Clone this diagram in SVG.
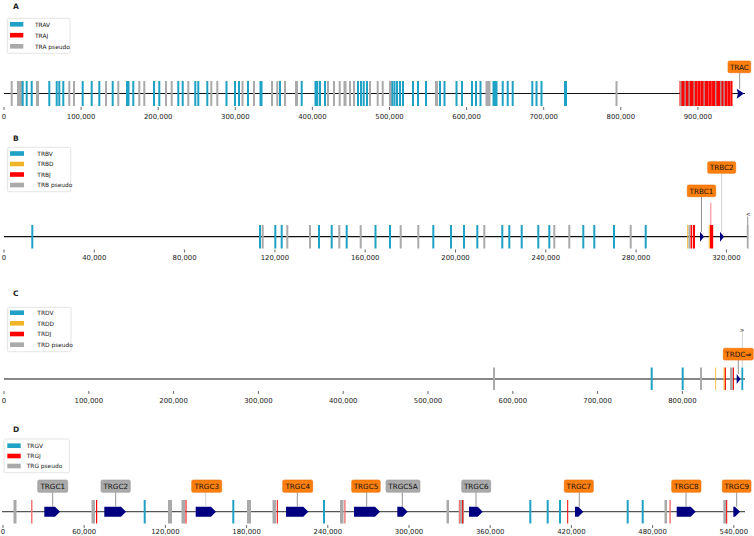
<svg xmlns="http://www.w3.org/2000/svg" width="754" height="536" viewBox="0 0 754 536">
<style>
text{font-family:"DejaVu Sans","Liberation Sans",sans-serif;fill:#222}
.t{font-size:6.9px;text-anchor:middle}
.ttl{font-size:7.5px;font-weight:bold}
.lg{font-size:5.9px}
.lb{font-size:7.2px;text-anchor:middle;fill:#111}
.b{fill:#1fa2c5}.g{fill:#aaa}.r{fill:#f00}.lr{fill:#f27878}.o{fill:#f0b429}.n{fill:#000080}
.box{fill:#fff;stroke:#ddd;stroke-width:0.8}
.ob{fill:#ff7f0e;stroke:#e86d00;stroke-width:0.6}
.gb{fill:#aaa;stroke:#999;stroke-width:0.6}
.tk{stroke:#444;stroke-width:0.8}
.cn{stroke:#888;stroke-width:0.9;fill:none}
.cl{stroke:#ccc;stroke-width:0.9;fill:none}
</style>
<rect width="754" height="536" fill="#fff"/>

<!-- ================= PANEL A ================= -->
<g id="panelA">
<text class="ttl" x="13" y="9">A</text>
<g id="legendA">
<rect class="box" x="7.3" y="18.3" width="62.7" height="35" rx="1.5"/>
<rect class="b" x="10" y="22" width="13.3" height="4.6"/><text class="lg" x="35" y="26.6">TRAV</text>
<rect class="r" x="10" y="32.9" width="13.3" height="4.6"/><text class="lg" x="35" y="37.5">TRAJ</text>
<rect class="g" x="10" y="44" width="13.3" height="4.6"/><text class="lg" x="35" y="48.6">TRA pseudo</text>
</g>
<line x1="4" y1="93.5" x2="745" y2="93.5" stroke="#111" stroke-width="1.2"/>
<g id="barsA">
<rect class="g" x="10.7" y="81" width="2" height="25"/>
<rect class="g" x="17" y="81" width="5.5" height="25"/>
<rect class="b" x="21.7" y="81" width="2" height="25"/>
<rect class="b" x="25.7" y="81" width="2" height="25"/>
<rect class="b" x="30.7" y="81" width="2" height="25"/>
<rect class="g" x="36" y="81" width="3" height="25"/>
<rect class="b" x="48.3" y="81" width="2" height="25"/>
<rect class="b" x="55.7" y="81" width="2" height="25"/>
<rect class="b" x="58.3" y="81" width="2" height="25"/>
<rect class="b" x="62.3" y="81" width="2" height="25"/>
<rect class="g" x="68.3" y="81" width="2" height="25"/>
<rect class="g" x="73" y="81" width="2" height="25"/>
<rect class="b" x="81.7" y="81" width="2" height="25"/>
<rect class="b" x="90.7" y="81" width="2" height="25"/>
<rect class="b" x="98.3" y="81" width="2" height="25"/>
<rect class="g" x="105" y="81" width="2" height="25"/>
<rect class="b" x="111.7" y="81" width="2" height="25"/>
<rect class="g" x="117.3" y="81" width="2" height="25"/>
<rect class="b" x="126" y="81" width="3.5" height="25"/>
<rect class="b" x="132.3" y="81" width="2" height="25"/>
<rect class="g" x="138.3" y="81" width="2" height="25"/>
<rect class="g" x="143.3" y="81" width="2" height="25"/>
<rect class="b" x="153" y="81" width="2" height="25"/>
<rect class="b" x="158.3" y="81" width="2" height="25"/>
<rect class="g" x="165" y="81" width="2" height="25"/>
<rect class="g" x="170.7" y="81" width="2" height="25"/>
<rect class="b" x="177.3" y="81" width="2" height="25"/>
<rect class="b" x="181.7" y="81" width="2" height="25"/>
<rect class="g" x="187.3" y="81" width="2" height="25"/>
<rect class="b" x="194.3" y="81" width="2" height="25"/>
<rect class="b" x="197.3" y="81" width="2" height="25"/>
<rect class="b" x="206.3" y="81" width="2" height="25"/>
<rect class="g" x="210.3" y="81" width="2" height="25"/>
<rect class="g" x="216.3" y="81" width="2" height="25"/>
<rect class="b" x="225.5" y="81" width="2" height="25"/>
<rect class="b" x="234" y="81" width="2" height="25"/>
<rect class="b" x="238" y="81" width="2" height="25"/>
<rect class="g" x="241.5" y="81" width="2" height="25"/>
<rect class="b" x="247" y="81" width="2" height="25"/>
<rect class="g" x="253" y="81" width="2" height="25"/>
<rect class="b" x="259.5" y="81" width="3" height="25"/>
<rect class="g" x="271" y="81" width="2" height="25"/>
<rect class="g" x="276.3" y="81" width="2" height="25"/>
<rect class="b" x="279" y="81" width="2" height="25"/>
<rect class="g" x="284" y="81" width="2" height="25"/>
<rect class="g" x="295" y="81" width="3" height="25"/>
<rect class="b" x="300.7" y="81" width="2" height="25"/>
<rect class="b" x="314.5" y="81" width="3.8" height="25"/>
<rect class="b" x="319" y="81" width="2" height="25"/>
<rect class="b" x="324" y="81" width="2" height="25"/>
<rect class="g" x="327" y="81" width="2" height="25"/>
<rect class="g" x="333" y="81" width="2" height="25"/>
<rect class="g" x="338.7" y="81" width="2" height="25"/>
<rect class="g" x="343.5" y="81" width="3" height="25"/>
<rect class="g" x="349" y="81" width="2" height="25"/>
<rect class="g" x="353" y="81" width="2" height="25"/>
<rect class="b" x="357" y="81" width="2" height="25"/>
<rect class="b" x="360" y="81" width="2" height="25"/>
<rect class="b" x="362.7" y="81" width="2" height="25"/>
<rect class="b" x="366" y="81" width="2" height="25"/>
<rect class="g" x="369" y="81" width="2" height="25"/>
<rect class="g" x="376.7" y="81" width="2" height="25"/>
<rect class="g" x="381.7" y="81" width="2" height="25"/>
<rect class="g" x="389" y="81" width="3" height="25"/>
<rect class="b" x="391.5" y="81" width="1.8" height="25"/>
<rect class="b" x="393.5" y="81" width="2" height="25"/>
<rect class="b" x="396" y="81" width="2" height="25"/>
<rect class="b" x="399" y="81" width="2" height="25"/>
<rect class="b" x="402" y="81" width="2" height="25"/>
<rect class="b" x="412" y="81" width="2" height="25"/>
<rect class="b" x="417" y="81" width="2" height="25"/>
<rect class="b" x="425" y="81" width="2" height="25"/>
<rect class="g" x="435" y="81" width="3" height="25"/>
<rect class="b" x="439" y="81" width="2" height="25"/>
<rect class="b" x="443.5" y="81" width="2" height="25"/>
<rect class="b" x="455.5" y="81" width="2" height="25"/>
<rect class="b" x="461" y="81" width="2" height="25"/>
<rect class="b" x="471" y="81" width="2" height="25"/>
<rect class="b" x="475" y="81" width="2" height="25"/>
<rect class="b" x="479.5" y="81" width="2" height="25"/>
<rect class="g" x="485.5" y="81" width="5" height="25"/>
<rect class="b" x="492.5" y="81" width="5" height="25"/>
<rect class="b" x="501.7" y="81" width="2" height="25"/>
<rect class="b" x="506.7" y="81" width="2" height="25"/>
<rect class="b" x="511.7" y="81" width="2" height="25"/>
<rect class="b" x="531.3" y="81" width="2" height="25"/>
<rect class="b" x="535.5" y="81" width="2" height="25"/>
<rect class="b" x="540.5" y="81" width="2" height="25"/>
<rect class="b" x="564" y="81" width="3" height="25"/>
<rect class="g" x="615.5" y="81" width="2" height="25"/>
<rect class="r" x="679.5" y="81" width="53" height="25"/>
<rect class="g" x="680.2" y="81" width="1.2" height="25"/>
<rect class="g" x="684.5" y="81" width="1.2" height="25"/>
<rect class="g" x="688.5" y="81" width="1.2" height="25"/>
<rect class="g" x="693.5" y="81" width="1.2" height="25"/>
<rect class="g" x="703.5" y="81" width="1.2" height="25"/>
<rect class="g" x="715.2" y="81" width="1.2" height="25"/>
<rect class="g" x="720.2" y="81" width="1.2" height="25"/>
<rect class="g" x="723.5" y="81" width="1.2" height="25"/>
<rect class="lr" x="697" y="81" width="0.6" height="25"/>
<rect class="lr" x="700" y="81" width="0.6" height="25"/>
<rect class="lr" x="708" y="81" width="0.6" height="25"/>
<rect class="lr" x="711.5" y="81" width="0.6" height="25"/>
<rect class="lr" x="727" y="81" width="0.6" height="25"/>
<rect class="lr" x="730" y="81" width="0.6" height="25"/>
</g>
<path class="n" d="M736.7,88.7 L744,93.6 L736.7,98.7 L738,93.6 Z"/>
<g id="ticksA">
<path class="tk" d="M4,107v3M81.1,107v3M158.2,107v3M235.3,107v3M312.4,107v3M389.5,107v3M466.6,107v3M543.7,107v3M620.8,107v3M697.9,107v3"/>
<text class="t" x="4" y="118.5">0</text>
<text class="t" x="81.1" y="118.5">100,000</text>
<text class="t" x="158.2" y="118.5">200,000</text>
<text class="t" x="235.3" y="118.5">300,000</text>
<text class="t" x="312.4" y="118.5">400,000</text>
<text class="t" x="389.5" y="118.5">500,000</text>
<text class="t" x="466.6" y="118.5">600,000</text>
<text class="t" x="543.7" y="118.5">700,000</text>
<text class="t" x="620.8" y="118.5">800,000</text>
<text class="t" x="697.9" y="118.5">900,000</text>
</g>
</g>

<!-- ================= PANEL B ================= -->
<g id="panelB">
<text class="ttl" x="13" y="141">B</text>
<g id="legendB">
<rect class="box" x="7.3" y="147.3" width="63.4" height="44.4" rx="1.5"/>
<rect class="b" x="10" y="151.2" width="14" height="4.6"/><text class="lg" x="37.3" y="155.7">TRBV</text>
<rect class="o" x="10" y="161.7" width="14" height="4.6"/><text class="lg" x="37.3" y="166.2">TRBD</text>
<rect class="r" x="10" y="172.2" width="14" height="4.6"/><text class="lg" x="37.3" y="176.7">TRBJ</text>
<rect class="g" x="10" y="182.7" width="14" height="4.6"/><text class="lg" x="37.3" y="187.2">TRB pseudo</text>
</g>
<line x1="4" y1="236.7" x2="748" y2="236.7" stroke="#111" stroke-width="1.2"/>
<g id="barsB">
<rect class="b" x="31.3" y="225" width="2" height="23.5"/>
<rect class="b" x="259" y="225" width="2" height="23.5"/>
<rect class="g" x="261.7" y="225" width="2" height="23.5"/>
<rect class="b" x="274.3" y="225" width="2" height="23.5"/>
<rect class="b" x="280.7" y="225" width="2" height="23.5"/>
<rect class="g" x="286.3" y="225" width="2" height="23.5"/>
<rect class="g" x="309" y="225" width="2" height="23.5"/>
<rect class="b" x="318" y="225" width="2" height="23.5"/>
<rect class="b" x="330.7" y="225" width="2" height="23.5"/>
<rect class="g" x="338.3" y="225" width="2" height="23.5"/>
<rect class="b" x="345.7" y="225" width="2" height="23.5"/>
<rect class="g" x="359.7" y="225" width="2" height="23.5"/>
<rect class="b" x="374.5" y="225" width="2" height="23.5"/>
<rect class="b" x="389" y="225" width="2" height="23.5"/>
<rect class="g" x="399.7" y="225" width="2" height="23.5"/>
<rect class="g" x="417.3" y="225" width="2" height="23.5"/>
<rect class="b" x="432.3" y="225" width="2" height="23.5"/>
<rect class="b" x="450" y="225" width="2" height="23.5"/>
<rect class="b" x="463" y="225" width="2" height="23.5"/>
<rect class="b" x="476.3" y="225" width="2" height="23.5"/>
<rect class="g" x="483.3" y="225" width="2" height="23.5"/>
<rect class="b" x="501.3" y="225" width="2" height="23.5"/>
<rect class="b" x="508.3" y="225" width="2" height="23.5"/>
<rect class="b" x="520.7" y="225" width="2" height="23.5"/>
<rect class="b" x="537.3" y="225" width="2" height="23.5"/>
<rect class="b" x="548.3" y="225" width="2" height="23.5"/>
<rect class="g" x="553.3" y="225" width="2" height="23.5"/>
<rect class="g" x="568.3" y="225" width="2" height="23.5"/>
<rect class="b" x="582.3" y="225" width="2" height="23.5"/>
<rect class="b" x="593.3" y="225" width="2" height="23.5"/>
<rect class="b" x="613" y="225" width="2" height="23.5"/>
<rect class="g" x="629.7" y="225" width="2" height="23.5"/>
<rect class="b" x="644.7" y="225" width="2" height="23.5"/>
<rect class="o" x="687.2" y="225" width="1" height="23.5"/>
<rect class="g" x="688.5" y="225" width="1.5" height="23.5"/>
<rect class="r" x="690.5" y="225" width="1.5" height="23.5"/>
<rect class="r" x="692.8" y="225" width="2.2" height="23.5"/>
<rect class="o" x="708.8" y="225" width="1" height="23.5"/>
<rect class="r" x="710" y="225" width="3.2" height="23.5"/>
<rect class="lr" x="710.4" y="202.7" width="0.9" height="22.5"/>
<rect class="g" x="746.8" y="225" width="1.8" height="23.5"/>
</g>
<path class="n" d="M700,231.7 L704,236.7 L700,241.7 Z"/>
<path class="n" d="M720,231.7 L724,236.7 L720,241.7 Z"/>
<g id="ticksB">
<path class="tk" d="M4,249.5v3M94.3,249.5v3M184.6,249.5v3M274.9,249.5v3M365.2,249.5v3M455.5,249.5v3M545.8,249.5v3M636.1,249.5v3M726.4,249.5v3"/>
<text class="t" x="4" y="259.5">0</text>
<text class="t" x="94.3" y="259.5">40,000</text>
<text class="t" x="184.6" y="259.5">80,000</text>
<text class="t" x="274.9" y="259.5">120,000</text>
<text class="t" x="365.2" y="259.5">160,000</text>
<text class="t" x="455.5" y="259.5">200,000</text>
<text class="t" x="545.8" y="259.5">240,000</text>
<text class="t" x="636.1" y="259.5">280,000</text>
<text class="t" x="726.4" y="259.5">320,000</text>
</g>
</g>

<!-- ================= PANEL C ================= -->
<g id="panelC">
<text class="ttl" x="13" y="296">C</text>
<g id="legendC">
<rect class="box" x="7.3" y="307.3" width="63.7" height="44.4" rx="1.5"/>
<rect class="b" x="10" y="310.4" width="14" height="4.6"/><text class="lg" x="37.3" y="314.9">TRDV</text>
<rect class="o" x="10" y="321" width="14" height="4.6"/><text class="lg" x="37.3" y="325.5">TRDD</text>
<rect class="r" x="10" y="331.7" width="14" height="4.6"/><text class="lg" x="37.3" y="336.2">TRDJ</text>
<rect class="g" x="10" y="342.4" width="14" height="4.6"/><text class="lg" x="37.3" y="346.9">TRD pseudo</text>
</g>
<line x1="4" y1="379" x2="745" y2="379" stroke="#111" stroke-width="1.2"/>
<g id="barsC">
<rect class="g" x="493" y="367.5" width="2" height="22.5"/>
<rect class="b" x="650.7" y="367.5" width="2" height="22.5"/>
<rect class="b" x="681.7" y="367.5" width="2" height="22.5"/>
<rect class="g" x="700" y="367.5" width="2" height="22.5"/>
<rect class="o" x="715.3" y="367.5" width="0.8" height="22.5"/>
<rect class="o" x="723.6" y="367.5" width="1.2" height="22.5"/>
<rect class="r" x="724.9" y="367.5" width="1" height="22.5"/>
<rect class="g" x="730" y="367.5" width="2.8" height="22.5"/>
<rect class="r" x="732.9" y="367.5" width="1" height="22.5"/>
<rect class="b" x="741.4" y="367.5" width="1.8" height="22.5"/>
</g>
<path class="n" d="M736.7,374 L740.5,379 L736.7,384 Z"/>
<g id="ticksC">
<path class="tk" d="M4,391v3M88.8,391v3M173.6,391v3M258.4,391v3M343.2,391v3M428,391v3M512.8,391v3M597.6,391v3M682.4,391v3"/>
<text class="t" x="4" y="402.5">0</text>
<text class="t" x="88.8" y="402.5">100,000</text>
<text class="t" x="173.6" y="402.5">200,000</text>
<text class="t" x="258.4" y="402.5">300,000</text>
<text class="t" x="343.2" y="402.5">400,000</text>
<text class="t" x="428" y="402.5">500,000</text>
<text class="t" x="512.8" y="402.5">600,000</text>
<text class="t" x="597.6" y="402.5">700,000</text>
<text class="t" x="682.4" y="402.5">800,000</text>
</g>
</g>

<!-- ================= PANEL D ================= -->
<g id="panelD">
<text class="ttl" x="13" y="432">D</text>
<g id="legendD">
<rect class="box" x="4" y="439" width="65.3" height="33.7" rx="1.5"/>
<rect class="b" x="7.3" y="443.4" width="13.4" height="4.6"/><text class="lg" x="26.7" y="447.9">TRGV</text>
<rect class="r" x="7.3" y="453.7" width="13.4" height="4.6"/><text class="lg" x="26.7" y="458.2">TRGJ</text>
<rect class="g" x="7.3" y="463.7" width="13.4" height="4.6"/><text class="lg" x="26.7" y="468.2">TRG pseudo</text>
</g>
<line x1="2" y1="511.7" x2="745" y2="511.7" stroke="#555" stroke-width="1.2"/>
<g id="barsD">
<rect class="g" x="13.5" y="500" width="3" height="23.5"/>
<rect class="lr" x="31" y="500" width="1.5" height="23.5"/>
<rect class="g" x="91.5" y="500" width="3.5" height="23.5"/>
<rect class="r" x="96" y="500" width="1.2" height="23.5"/>
<rect class="b" x="143.7" y="500" width="2" height="23.5"/>
<rect class="g" x="168" y="500" width="4" height="23.5"/>
<rect class="g" x="181.5" y="500" width="3.5" height="23.5"/>
<rect class="r" x="185.5" y="500" width="1" height="23.5"/>
<rect class="b" x="232.3" y="500" width="2" height="23.5"/>
<rect class="g" x="247" y="500" width="4" height="23.5"/>
<rect class="g" x="272.5" y="500" width="3.5" height="23.5"/>
<rect class="r" x="276.8" y="500" width="1" height="23.5"/>
<rect class="b" x="323" y="500" width="2" height="23.5"/>
<rect class="g" x="340" y="500" width="3.5" height="23.5"/>
<rect class="lr" x="344.2" y="500" width="1.4" height="23.5"/>
<rect class="g" x="446.5" y="500" width="2.5" height="23.5"/>
<rect class="g" x="458.7" y="500" width="5.3" height="23.5"/>
<rect class="lr" x="459" y="500" width="1.2" height="23.5"/>
<rect class="r" x="462.2" y="500" width="1" height="23.5"/>
<rect class="b" x="529.3" y="500" width="2" height="23.5"/>
<rect class="b" x="546.7" y="500" width="2" height="23.5"/>
<rect class="b" x="559" y="500" width="2" height="23.5"/>
<rect class="r" x="567.2" y="500" width="1" height="23.5"/>
<rect class="b" x="626.7" y="500" width="2" height="23.5"/>
<rect class="b" x="641.7" y="500" width="2" height="23.5"/>
<rect class="g" x="664.5" y="500" width="2.5" height="23.5"/>
<rect class="lr" x="669.3" y="500" width="1.5" height="23.5"/>
<rect class="g" x="723.3" y="500" width="3.5" height="23.5"/>
<rect class="r" x="726.2" y="500" width="1" height="23.5"/>
</g>
<g id="genesD">
<path class="n" d="M44.3,506.7H55L60,511.7L55,516.7H44.3Z"/>
<path class="n" d="M104.3,506.7H121L126,511.7L121,516.7H104.3Z"/>
<path class="n" d="M195.7,506.7H211L216,511.7L211,516.7H195.7Z"/>
<path class="n" d="M286,506.7H303.3L308.3,511.7L303.3,516.7H286Z"/>
<path class="n" d="M354,506.7H375L380,511.7L375,516.7H354Z"/>
<path class="n" d="M397.3,506.7H402.7L407.7,511.7L402.7,516.7H397.3Z"/>
<path class="n" d="M469,506.7H477.7L482.7,511.7L477.7,516.7H469Z"/>
<path class="n" d="M575,506.7H578.3L583.3,511.7L578.3,516.7H575Z"/>
<path class="n" d="M676.7,506.7H690.7L695.7,511.7L690.7,516.7H676.7Z"/>
<path class="n" d="M733.3,506.7H735L740,511.7L735,516.7H733.3Z"/>
</g>
<g id="ticksD">
<path class="tk" d="M3,525v3M84.2,525v3M165.4,525v3M246.6,525v3M327.8,525v3M409,525v3M490.2,525v3M571.4,525v3M652.6,525v3M733.8,525v3"/>
<text class="t" x="3" y="534">0</text>
<text class="t" x="84.2" y="534">60,000</text>
<text class="t" x="165.4" y="534">120,000</text>
<text class="t" x="246.6" y="534">180,000</text>
<text class="t" x="327.8" y="534">240,000</text>
<text class="t" x="409" y="534">300,000</text>
<text class="t" x="490.2" y="534">360,000</text>
<text class="t" x="571.4" y="534">420,000</text>
<text class="t" x="652.6" y="534">480,000</text>
<text class="t" x="733.8" y="534">540,000</text>
</g>
</g>

<!-- ================= CONNECTORS ================= -->
<g id="connectors">
<path class="cn" d="M739.7,72.7V89"/>
<path class="cn" d="M701.5,196.7V232"/>
<path class="cl" d="M721.7,173.3V232"/>
<path class="cn" d="M747.7,216.5V225"/>
<path class="cl" d="M742.3,331V367.5"/>
<path class="cn" d="M738.3,360V374"/>
<path class="cn" d="M52.7,492.3V506.7"/>
<path class="cn" d="M115.7,492.3V506.7"/>
<path class="cl" d="M205.7,492.3V506.7"/>
<path class="cn" d="M297.3,492.3V506.7"/>
<path class="cn" d="M366.7,492.3V506.7"/>
<path class="cn" d="M402.3,492.3V506.7"/>
<path class="cn" d="M476,492.3V506.7"/>
<path class="cn" d="M579.3,492.3V506.7"/>
<path class="cn" d="M686,492.3V506.7"/>
<path class="cn" d="M736.7,492.3V506.7"/>
</g>

<!-- ================= LABELS ================= -->
<g id="label-TRAC"><rect class="ob" x="728" y="61" width="22.7" height="11.7" rx="1.5"/><text class="lb" x="739.4" y="69.5">TRAC</text></g>
<g id="label-TRBC1"><rect class="ob" x="687.3" y="185" width="28.4" height="11.7" rx="1.5"/><text class="lb" x="701.5" y="193.5">TRBC1</text></g>
<g id="label-TRBC2"><rect class="ob" x="707.7" y="161.7" width="28" height="11.6" rx="1.5"/><text class="lb" x="721.7" y="170.2">TRBC2</text></g>
<g id="label-lt"><text x="748.3" y="216" style="font-size:5.5px;text-anchor:middle">&lt;</text></g>
<g id="label-gt"><text x="742" y="331.5" style="font-size:5.5px;text-anchor:middle">&gt;</text></g>
<g id="label-TRDC"><rect class="ob" x="723.3" y="348.3" width="30" height="11.7" rx="1.5"/><text class="lb" x="738.3" y="356.8">TRDC⇒</text></g>
<g id="label-TRGC1"><rect class="gb" x="37.7" y="480" width="30" height="12.3" rx="1.5"/><text class="lb" x="52.7" y="488.8">TRGC1</text></g>
<g id="label-TRGC2"><rect class="gb" x="101" y="480" width="29.3" height="12.3" rx="1.5"/><text class="lb" x="115.7" y="488.8">TRGC2</text></g>
<g id="label-TRGC3"><rect class="ob" x="191.7" y="480" width="30" height="12.3" rx="1.5"/><text class="lb" x="206.7" y="488.8">TRGC3</text></g>
<g id="label-TRGC4"><rect class="ob" x="282.7" y="480" width="30" height="12.3" rx="1.5"/><text class="lb" x="297.7" y="488.8">TRGC4</text></g>
<g id="label-TRGC5"><rect class="ob" x="351.7" y="480" width="28.5" height="12.3" rx="1.5"/><text class="lb" x="366" y="488.8">TRGC5</text></g>
<g id="label-TRGC5A"><rect class="gb" x="386" y="480" width="34" height="12.3" rx="1.5"/><text class="lb" x="403" y="488.8">TRGC5A</text></g>
<g id="label-TRGC6"><rect class="gb" x="461.7" y="480" width="29" height="12.3" rx="1.5"/><text class="lb" x="476.2" y="488.8">TRGC6</text></g>
<g id="label-TRGC7"><rect class="ob" x="564.3" y="480" width="29" height="12.3" rx="1.5"/><text class="lb" x="578.8" y="488.8">TRGC7</text></g>
<g id="label-TRGC8"><rect class="ob" x="671.7" y="480" width="29.3" height="12.3" rx="1.5"/><text class="lb" x="686.3" y="488.8">TRGC8</text></g>
<g id="label-TRGC9"><rect class="ob" x="722.3" y="480" width="28.7" height="12.3" rx="1.5"/><text class="lb" x="736.7" y="488.8">TRGC9</text></g>
</svg>
